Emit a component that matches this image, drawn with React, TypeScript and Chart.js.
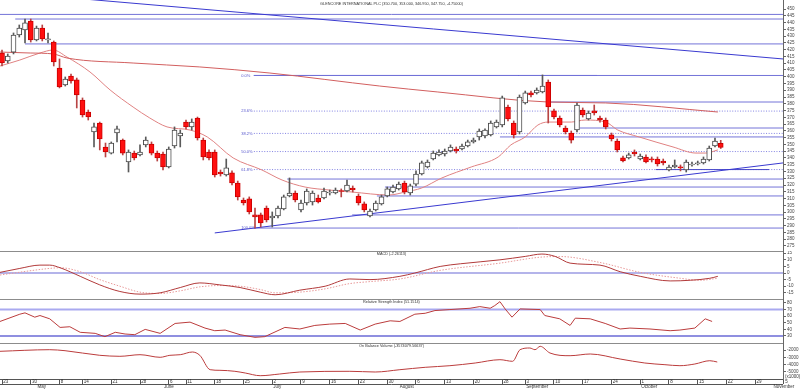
import React, { useEffect, useRef } from 'react';
import { Chart, registerables } from 'chart.js';

Chart.register(...registerables);

// ---------- DATA ----------
const MAIN_TITLE = 'GLENCORE INTERNATIONAL PLC (350.700, 353.000, 346.950, 347.750, -4.75000)';
const MACD_TITLE = 'MACD (-2.26113)';
const RSI_TITLE = 'Relative Strength Index (51.1514)';
const OBV_TITLE = 'On Balance Volume (-3574079.56637)';
const OBV_UNIT = '(x1000)';

const OPEN = [417.5, 411.6, 418.2, 430.8, 434.5, 441.1, 427.1, 436.0, 427.1, 425.6, 406.4, 393.9, 400.5, 397.6, 382.8, 373.9, 359.2, 365.8, 348.1, 343.6, 358.4, 353.2, 337.0, 343.6, 342.2, 349.6, 350.3, 343.6, 342.9, 333.3, 348.8, 356.2, 366.5, 362.9, 369.5, 353.2, 344.4, 344.4, 329.6, 327.4, 328.9, 321.5, 308.9, 309.7, 297.9, 297.9, 303.0, 295.6, 297.1, 302.3, 311.9, 314.1, 301.6, 306.7, 307.5, 310.4, 310.4, 314.1, 314.1, 315.6, 315.6, 317.8, 311.9, 306.0, 297.1, 301.6, 306.0, 311.9, 314.8, 317.1, 321.5, 314.1, 320.7, 328.1, 333.3, 339.2, 342.2, 343.0, 345.1, 346.6, 346.6, 348.8, 351.8, 355.5, 356.2, 357.0, 362.9, 364.3, 377.6, 365.8, 359.2, 380.6, 388.0, 388.0, 388.7, 396.1, 374.7, 369.5, 362.1, 358.4, 360.6, 375.4, 368.8, 374.7, 369.5, 368.0, 357.0, 352.5, 340.0, 340.0, 344.4, 339.2, 340.7, 339.2, 339.2, 337.7, 331.1, 333.3, 333.3, 331.1, 334.8, 335.5, 336.3, 338.5, 348.8, 350.7];
const HIGH = [419.7, 416.8, 432.3, 438.2, 442.6, 442.6, 437.4, 438.2, 432.3, 426.4, 413.1, 399.8, 402.0, 399.0, 384.3, 375.4, 365.8, 366.5, 351.0, 351.8, 363.6, 354.0, 345.9, 345.1, 349.6, 355.5, 351.8, 345.1, 344.4, 348.1, 362.9, 360.6, 368.0, 368.8, 370.2, 354.7, 345.9, 345.9, 331.1, 339.2, 330.4, 322.9, 310.4, 311.2, 303.0, 299.3, 304.5, 300.1, 304.5, 312.6, 325.2, 315.6, 308.9, 317.1, 315.6, 312.6, 317.8, 316.3, 317.8, 317.1, 323.7, 319.3, 313.4, 307.5, 302.3, 308.2, 312.6, 318.5, 320.0, 322.2, 322.9, 320.7, 330.4, 337.7, 338.5, 345.1, 345.9, 346.6, 349.6, 348.1, 350.3, 353.2, 354.7, 361.4, 361.4, 367.3, 368.0, 385.7, 379.1, 367.3, 386.5, 389.4, 389.4, 391.7, 401.3, 397.6, 376.1, 371.0, 363.6, 359.9, 380.6, 376.9, 374.7, 379.1, 371.0, 369.5, 358.4, 354.0, 341.4, 343.6, 345.9, 342.9, 342.2, 340.7, 340.7, 339.2, 334.8, 338.5, 334.8, 338.5, 337.0, 337.7, 340.7, 348.8, 354.7, 353.0];
const LOW = [407.9, 410.1, 416.8, 429.3, 424.9, 425.6, 426.4, 426.4, 424.9, 407.9, 391.7, 393.1, 395.3, 376.9, 370.2, 368.0, 348.1, 345.9, 340.7, 342.9, 351.8, 342.2, 329.6, 338.5, 341.4, 348.1, 342.2, 337.7, 331.1, 332.6, 347.3, 348.1, 361.4, 360.6, 353.2, 338.5, 338.5, 325.9, 326.6, 326.6, 320.0, 308.9, 305.2, 298.6, 288.2, 289.0, 292.7, 289.0, 295.6, 301.6, 311.2, 307.5, 300.1, 305.2, 305.2, 306.7, 309.7, 312.6, 313.4, 311.2, 314.8, 314.8, 305.2, 300.1, 296.4, 300.8, 305.2, 311.2, 314.1, 316.3, 313.4, 312.6, 319.3, 327.4, 332.6, 338.5, 341.4, 341.4, 344.4, 343.6, 345.9, 348.1, 351.0, 353.2, 354.7, 356.2, 362.1, 362.9, 367.3, 354.7, 357.7, 379.8, 385.0, 387.2, 388.0, 365.8, 368.8, 362.9, 357.7, 351.0, 359.2, 370.2, 368.0, 371.7, 366.5, 361.4, 352.5, 344.4, 337.0, 339.2, 341.4, 338.5, 336.3, 337.0, 334.0, 334.8, 330.4, 332.6, 330.4, 329.6, 334.0, 334.8, 335.5, 337.7, 348.1, 346.95];
const CLOSE = [410.1, 415.3, 430.8, 436.0, 439.7, 427.1, 436.0, 427.9, 427.9, 410.9, 392.4, 398.3, 396.8, 386.5, 371.7, 370.2, 362.9, 354.0, 344.4, 351.0, 361.4, 343.6, 344.4, 340.0, 344.4, 353.2, 343.6, 340.0, 333.3, 346.6, 360.6, 358.4, 362.9, 366.5, 354.7, 340.7, 340.0, 327.4, 328.1, 332.6, 321.5, 311.2, 306.7, 300.1, 296.4, 292.0, 294.2, 297.1, 303.0, 311.2, 314.1, 308.9, 306.7, 315.6, 314.1, 307.5, 315.6, 314.8, 316.3, 315.2, 320.0, 316.3, 306.7, 301.6, 300.8, 306.7, 311.2, 317.1, 318.5, 320.7, 314.8, 319.3, 328.1, 336.3, 337.0, 343.6, 344.4, 345.1, 348.1, 345.1, 348.8, 351.8, 353.2, 359.9, 360.6, 365.8, 366.5, 384.3, 368.8, 357.0, 385.0, 388.0, 386.5, 390.2, 393.1, 377.6, 370.2, 364.3, 359.2, 353.2, 379.1, 371.7, 373.2, 373.2, 368.0, 362.9, 354.0, 345.9, 337.7, 342.2, 342.9, 341.4, 337.0, 338.5, 335.5, 336.3, 333.3, 334.8, 332.6, 337.0, 335.5, 336.3, 339.2, 347.3, 352.5, 347.75];

const SLOW_MA_X = [-0.35, 4.9, 8.9, 11.3, 22.8, 34.4, 46.6, 65.7, 75.8, 95.0, 105.0, 124.5];
const SLOW_MA = [418.2, 417.5, 416.8, 413.8, 410.1, 407.2, 402.7, 393.1, 388.7, 381.3, 380.6, 373.9];
const FAST_MA_X = [-0.35, 3.1, 6.6, 8.9, 11.3, 15.3, 18.8, 22.8, 25.7, 28.7, 32.7, 35.7, 40.2, 45.2, 48.7, 52.7, 56.9, 60.9, 67.3, 70.1, 73.0, 76.5, 81.6, 86.3, 88.5, 91.0, 93.2, 95.0, 99.0, 101.4, 105.0, 107.1, 110.8, 116.7, 120.7, 122.4, 124.5];
const FAST_MA = [407.9, 412.3, 417.5, 419.7, 414.5, 403.5, 390.2, 377.6, 369.5, 362.9, 360.6, 355.5, 340.0, 331.1, 323.7, 318.5, 316.3, 314.8, 312.6, 314.8, 317.8, 325.2, 333.3, 340.7, 349.6, 355.5, 364.3, 366.5, 366.5, 368.0, 366.5, 360.6, 355.5, 348.1, 343.6, 343.6, 345.9];

const MACD_X = [-0.35, 3.1, 6.6, 8.3, 10.1, 13.6, 17.0, 20.5, 24.0, 27.5, 31.0, 34.4, 37.9, 41.4, 44.9, 47.5, 51.8, 56.2, 60.5, 64.0, 69.2, 71.8, 76.2, 79.7, 86.6, 91.0, 93.9, 96.2, 98.8, 104.0, 107.5, 111.0, 116.2, 119.7, 123.1, 124.5];
const MACD = [0.5, 3.5, 6, 6, 4, -2.5, -9, -14, -16, -15, -11, -7.5, -9, -11, -14.5, -16.5, -13, -10, -4.5, -5, -2.5, 0, 5, 7, 10, 12.6, 14.4, 12.6, 7.5, 6, 1, -2.5, -6, -5.5, -4, -2.5];
const SIGNAL_X = [-0.35, 8.3, 10.1, 13.6, 17.0, 20.5, 24.0, 27.5, 31.0, 34.4, 37.9, 41.4, 44.9, 47.5, 51.8, 56.2, 60.5, 64.0, 69.2, 76.2, 86.6, 93.6, 97.0, 104.0, 111.0, 118.0, 121.4, 124.5];
const SIGNAL = [-1.5, 3.5, 4, 1, -5, -10, -14.5, -15.5, -13.5, -10.5, -9.5, -10, -12.5, -15, -14.5, -12, -8, -6.5, -4.5, 2, 7.5, 12, 12.5, 8, 0.5, -4, -5.5, -4];

const RSI_X = [-0.35, 3.1, 4.0, 5.7, 6.6, 8.3, 10.1, 11.8, 13.6, 16.2, 17.9, 19.7, 21.4, 23.1, 24.9, 27.5, 30.1, 32.7, 35.3, 37.0, 38.8, 41.4, 44.0, 45.7, 49.2, 51.8, 54.4, 57.0, 59.7, 62.3, 64.9, 67.5, 69.2, 71.8, 73.6, 75.3, 77.9, 81.4, 83.1, 84.9, 85.7, 86.6, 87.5, 88.7, 90.1, 93.6, 94.4, 97.0, 98.8, 99.7, 102.3, 104.9, 107.5, 109.2, 112.7, 116.2, 117.9, 120.5, 122.3, 123.5];
const RSI = [52, 63, 65, 58.5, 61, 56, 43, 44, 35.6, 34, 29, 35.6, 33, 32, 40, 34, 49, 51, 42, 38, 39, 32, 28, 29, 43, 40.6, 46, 48, 49, 39, 48, 53, 52, 63, 64.4, 68.5, 70, 72, 74.5, 72, 76, 82, 71, 58.5, 71, 70, 61, 56, 46, 57, 56, 49, 40.6, 42, 40.6, 38, 39, 42, 56, 52];
const RSI_LEVELS = [70, 30];

const OBV_X = [-0.35, 8.3, 10.96, 17.0, 20.5, 24.0, 27.5, 29.2, 31.0, 33.1, 34.4, 36.2, 37.9, 40.5, 42.3, 44.9, 48.3, 51.8, 60.5, 64.9, 69.2, 73.6, 77.9, 82.3, 86.6, 88.8, 90.1, 91.8, 92.7, 93.6, 95.3, 98.8, 102.3, 107.5, 111.8, 115.3, 117.9, 120.5, 123.1, 124.4];
const OBV = [-2177, -1959, -2095, -2723, -2859, -2641, -2995, -2723, -2641, -2273, -2723, -4687, -4769, -4905, -5137, -5505, -5274, -5001, -4905, -5001, -4687, -4360, -4141, -3773, -3323, -3541, -1959, -1727, -1959, -1495, -2409, -2777, -2545, -3228, -3773, -4005, -4141, -3910, -3460, -3637];

// horizontal support / resistance lines: level and first index
const H_LEVELS = [446.0, 442.6, 424.2, 381.3, 362.1, 355.5, 324.4, 318.5, 311.9, 297.9];
const H_START = [-0.35, 2.3, 4.0, 95.0, 100.5, 86.6, 49.6, 66.6, 65.2, 60.9];
const SUPPORT_X = [113.7, 133.4];
const SUPPORT_LEVEL = 331.4;

const FIB_LEVELS = [400.9, 374.6, 358.1, 344.7, 331.4, 288.2];
const FIB_LABELS = ['0.0%', '23.6%', '38.2%', '50.0%', '61.8%', '100.0%'];
const FIB_START = 43.8;
const FIB_LABEL_X = 41.6;
const HIGH_SEG_END = 103.5;

const TREND_X = [37.0, 135.83];
const TREND_Y = [284.6, 336.3];
const TOP_TREND_X = [-0.35, 135.83];
const TOP_TREND_Y = [462.7, 413.1];

const PRICE_TICKS = [450, 445, 440, 435, 430, 425, 420, 415, 410, 405, 400, 395, 390, 385, 380, 375, 370, 365, 360, 355, 350, 345, 340, 335, 330, 325, 320, 315, 310, 305, 300, 295, 290, 285, 280, 275];
const MACD_TICKS = [15, 10, 5, 0, -5, -10, -15];
const RSI_TICKS = [80, 70, 60, 50, 40, 30];
const OBV_TICKS = [-2000, -3000, -4000, -5000];

const X_TICK_IDX = [0, 5, 10, 14, 19, 24, 29, 32, 37, 42, 47, 52, 57, 62, 67, 72, 77, 82, 87, 91, 96, 101, 106, 111, 116, 121, 126, 131, 136];
const X_TICK_LABELS = ['23', '30', '8', '14', '21', '28', '6', '11', '18', '25', '2', '9', '16', '23', '30', '6', '13', '20', '28', '3', '10', '17', '24', '1', '8', '15', '22', '29', '5'];
const MONTH_IDX = [6, 28, 47, 69, 91, 111, 134];
const MONTH_NAMES = ['May', 'June', 'July', 'August', 'September', 'October', 'November'];

// ---------- LAYOUT / STYLE ----------
const FONT = '"Liberation Sans", Arial, sans-serif';
const X_MIN = -0.35;
const X_MAX = 135.83;
const AXIS_W = 17;
const LAV = '#7474d8';
const LAV_DOT = '#8282e2';
const BLUE = '#3a3ad0';
const SEP = '#8c8c8c';

function pts(xs: number[], ys: number[]) {
  const n = Math.min(xs.length, ys.length);
  const out: { x: number; y: number }[] = [];
  for (let i = 0; i < n; i++) out.push({ x: xs[i], y: ys[i] });
  return out;
}

function seg(x0: number, x1: number, y: number, color: string, dash: number[] = [], width = 1, order = 10): any {
  return {
    type: 'line',
    data: [{ x: x0, y }, { x: x1, y }],
    borderColor: color,
    borderWidth: width,
    borderDash: dash,
    pointRadius: 0,
    order,
  };
}

function lineDs(data: any[], color: string, width = 1, order = 4, dash: number[] = [], smooth = false): any {
  return {
    type: 'line',
    data,
    borderColor: color,
    borderWidth: width,
    borderDash: dash,
    pointRadius: 0,
    order,
    cubicInterpolationMode: smooth ? 'monotone' : 'default',
  };
}

function yAxis(min: number, max: number, ticks: number[]): any {
  return {
    type: 'linear',
    position: 'right',
    min,
    max,
    afterBuildTicks: (s: any) => {
      s.ticks = ticks.map((v) => ({ value: v }));
    },
    afterFit: (s: any) => {
      s.width = AXIS_W;
      s.paddingTop = 0;
      s.paddingBottom = 0;
    },
    grid: { drawOnChartArea: false, drawTicks: true, tickLength: 3, color: '#666', lineWidth: 1 },
    border: { display: true, color: '#666', width: 1 },
    ticks: {
      autoSkip: false,
      padding: 1,
      color: '#444',
      font: { family: FONT, size: 4.5 },
      callback: (v: any) => String(v),
    },
  };
}

function xAxis(show: boolean): any {
  return {
    type: 'linear',
    min: X_MIN,
    max: X_MAX,
    offset: false,
    display: show,
    position: 'bottom',
    afterBuildTicks: (s: any) => {
      s.ticks = X_TICK_IDX.map((v) => ({ value: v }));
    },
    afterFit: (s: any) => {
      s.height = show ? 10 : 0;
      s.paddingLeft = 0;
      s.paddingRight = 0;
    },
    grid: { offset: false, drawOnChartArea: false, drawTicks: true, tickLength: 5, color: '#555', lineWidth: 1 },
    border: { display: true, color: '#555', width: 1 },
    ticks: {
      autoSkip: false,
      maxRotation: 0,
      minRotation: 0,
      align: 'start',
      padding: -5,
      color: '#333',
      font: { family: FONT, size: 4.5 },
      callback: (_v: any, i: number) => ' ' + (X_TICK_LABELS[i] ?? ''),
    },
  };
}

function baseOptions(scales: any): any {
  return {
    responsive: false,
    maintainAspectRatio: false,
    animation: false,
    events: [],
    layout: { padding: 0 },
    plugins: { legend: { display: false }, tooltip: { enabled: false }, title: { display: false } },
    scales,
  };
}

function panelDeco(title: string, titleY: number, drawSep: boolean): any {
  return {
    id: 'panelDeco',
    afterDraw(chart: any) {
      const { ctx, chartArea } = chart;
      ctx.save();
      if (drawSep) {
        ctx.strokeStyle = SEP;
        ctx.lineWidth = 1;
        ctx.beginPath();
        ctx.moveTo(0, 0.5);
        ctx.lineTo(chartArea.right, 0.5);
        ctx.stroke();
      }
      ctx.fillStyle = '#333';
      ctx.font = `3.8px ${FONT}`;
      ctx.textAlign = 'center';
      ctx.textBaseline = 'middle';
      ctx.fillText(title, (chartArea.left + chartArea.right) / 2, titleY);
      ctx.restore();
    },
  };
}

function mainConfig(): any {
  const idx = OPEN.map((_, i) => i);
  const up = idx.map((i) => CLOSE[i] >= OPEN[i]);
  const datasets: any[] = [];
  H_LEVELS.forEach((lv, k) => datasets.push(seg(H_START[k], X_MAX, lv, LAV)));
  datasets.push(seg(SUPPORT_X[0], SUPPORT_X[1], SUPPORT_LEVEL, '#4848c8'));
  FIB_LEVELS.forEach((lv, k) => {
    const solid = k === 0 || k === FIB_LEVELS.length - 1;
    datasets.push(seg(FIB_START, X_MAX, lv, solid ? LAV : LAV_DOT, solid ? [] : [1, 1.6]));
  });
  datasets.push(seg(FIB_START, HIGH_SEG_END, FIB_LEVELS[0], BLUE));
  datasets.push(lineDs(pts(TREND_X, TREND_Y), BLUE, 1, 9));
  datasets.push(lineDs(pts(TOP_TREND_X, TOP_TREND_Y), BLUE, 1, 9));
  datasets.push(lineDs(pts(SLOW_MA_X, SLOW_MA), '#d25f5f', 1, 4, [], true));
  datasets.push(lineDs(pts(FAST_MA_X, FAST_MA), '#e08282', 1, 4, [], true));
  datasets.push({
    type: 'bar',
    data: idx.map((i) => ({ x: i, y: [LOW[i], HIGH[i]] })),
    backgroundColor: idx.map((i) => (up[i] ? '#5a5a5a' : '#b84444')),
    barThickness: 1,
    grouped: false,
    minBarLength: 1,
    order: 2,
  });
  datasets.push({
    type: 'bar',
    data: idx.map((i) => ({ x: i, y: [Math.min(OPEN[i], CLOSE[i]), Math.max(OPEN[i], CLOSE[i])] })),
    backgroundColor: idx.map((i) => (up[i] ? '#ffffff' : '#ff1010')),
    borderColor: idx.map((i) => (up[i] ? '#4a4a4a' : '#cc0000')),
    borderWidth: 1,
    borderSkipped: false,
    barThickness: 5,
    grouped: false,
    minBarLength: 1,
    order: 1,
  });

  const deco = {
    id: 'mainDeco',
    afterDatasetsDraw(chart: any) {
      const { ctx, chartArea, scales } = chart;
      const xs = scales.x;
      const ys = scales.y;
      ctx.save();
      ctx.font = `4px ${FONT}`;
      ctx.fillStyle = '#5656cc';
      ctx.textAlign = 'left';
      ctx.textBaseline = 'middle';
      FIB_LEVELS.forEach((lv, k) => {
        ctx.fillText(FIB_LABELS[k], xs.getPixelForValue(FIB_LABEL_X), ys.getPixelForValue(lv));
      });
      ctx.fillStyle = '#333';
      ctx.font = `3.8px ${FONT}`;
      ctx.textAlign = 'center';
      ctx.fillText(MAIN_TITLE, (chartArea.left + chartArea.right) / 2, 3.5);
      ctx.restore();
    },
  };

  return {
    type: 'bar',
    data: { datasets },
    options: baseOptions({ x: xAxis(false), y: yAxis(271.25, 456.65, PRICE_TICKS) }),
    plugins: [deco],
  };
}

function macdConfig(): any {
  return {
    type: 'line',
    data: {
      datasets: [
        seg(X_MIN, X_MAX, 0, '#6a6ad6', [], 1.2, 10),
        lineDs(pts(SIGNAL_X, SIGNAL), '#e89a9a', 1, 5, [1.5, 1.5], true),
        lineDs(pts(MACD_X, MACD), '#b23a3a', 1, 4, [], true),
      ],
    },
    options: baseOptions({ x: xAxis(false), y: yAxis(-19.7, 16.7, MACD_TICKS) }),
    plugins: [panelDeco(MACD_TITLE, 2.5, true)],
  };
}

function rsiConfig(): any {
  return {
    type: 'line',
    data: {
      datasets: [
        seg(X_MIN, X_MAX, RSI_LEVELS[0], '#a9a9f0', [], 2, 10),
        seg(X_MIN, X_MAX, RSI_LEVELS[1], '#6a6ad6', [], 1.3, 10),
        lineDs(pts(RSI_X, RSI), '#bb3c3c', 1, 4),
      ],
    },
    options: baseOptions({ x: xAxis(false), y: yAxis(19.4, 86, RSI_TICKS) }),
    plugins: [panelDeco(RSI_TITLE, 2.5, true)],
  };
}

function obvConfig(): any {
  const deco = {
    id: 'obvDeco',
    afterDraw(chart: any) {
      const { ctx, chartArea, scales } = chart;
      const xs = scales.x;
      ctx.save();
      ctx.strokeStyle = '#555';
      ctx.lineWidth = 1;
      ctx.beginPath();
      ctx.moveTo(0, chartArea.bottom + 5.5);
      ctx.lineTo(chartArea.right, chartArea.bottom + 5.5);
      ctx.stroke();
      ctx.fillStyle = '#333';
      ctx.font = `4.5px ${FONT}`;
      ctx.textAlign = 'left';
      ctx.textBaseline = 'middle';
      MONTH_IDX.forEach((m, k) => {
        ctx.fillText(MONTH_NAMES[k], xs.getPixelForValue(m) + 1, chartArea.bottom + 8);
      });
      ctx.fillText(OBV_UNIT, chartArea.right + 2, chartArea.bottom - 2);
      ctx.restore();
    },
  };
  return {
    type: 'line',
    data: {
      datasets: [lineDs(pts(OBV_X, OBV), '#bb3c3c', 1, 4, [], true)],
    },
    options: baseOptions({ x: xAxis(true), y: yAxis(-5955, -1045, OBV_TICKS) }),
    plugins: [panelDeco(OBV_TITLE, 3, true), deco],
  };
}

export default function App() {
  const r1 = useRef<HTMLCanvasElement>(null);
  const r2 = useRef<HTMLCanvasElement>(null);
  const r3 = useRef<HTMLCanvasElement>(null);
  const r4 = useRef<HTMLCanvasElement>(null);

  useEffect(() => {
    document.body.style.margin = '0';
    const charts: Chart[] = [];
    if (r1.current) charts.push(new Chart(r1.current, mainConfig()));
    if (r2.current) charts.push(new Chart(r2.current, macdConfig()));
    if (r3.current) charts.push(new Chart(r3.current, rsiConfig()));
    if (r4.current) charts.push(new Chart(r4.current, obvConfig()));
    return () => charts.forEach((c) => c.destroy());
  }, []);

  const cs = (top: number): React.CSSProperties => ({ position: 'absolute', left: 0, top, display: 'block' });
  return (
    <div style={{ position: 'absolute', left: 0, top: 0, width: 800, height: 389, background: '#ffffff', overflow: 'hidden' }}>
      <canvas ref={r1} width={800} height={251} style={cs(0)} />
      <canvas ref={r2} width={800} height={48} style={cs(251)} />
      <canvas ref={r3} width={800} height={44} style={cs(299)} />
      <canvas ref={r4} width={800} height={46} style={cs(343)} />
    </div>
  );
}
